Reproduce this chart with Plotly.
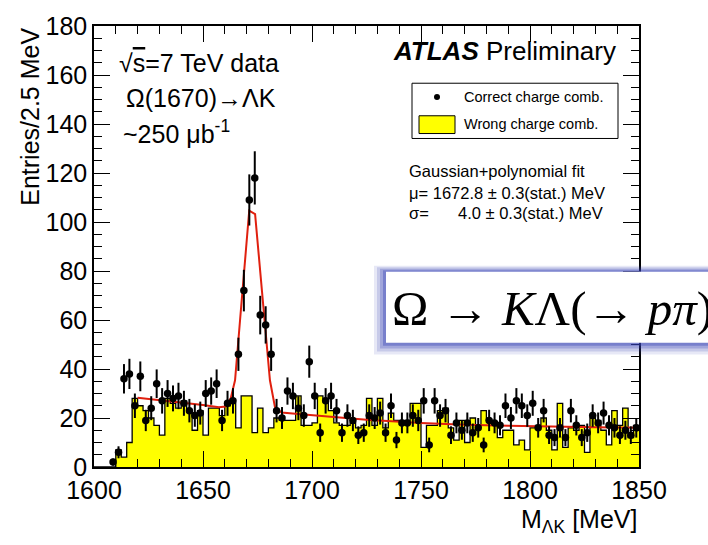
import numpy as np
import plotly.graph_objects as go

# ---------------- data ----------------
x_start = 1600.0
bin_width = 2.5
# Correct charge combinations (points), 100 bins of 2.5 MeV from 1600
correct = [0, 0, 0, 2, 6, 36, 38, 25, 37, 19,
           24, 34, 27, 30, 28, 29, 26, 23, 21, 22,
           30, 31, 34, 19, 26, 27, 46, 72, 109, 118,
           62, 58, 46, 23, 20, 31, 29, 24, 21, 43,
           29, 14, 27, 29, 23, 14, 21, 19, 13, 14,
           21, 20, 22, 14, 25, 11, 18, 18, 21, 19,
           27, 9, 27, 21, 23, 13, 18, 15, 18, 14,
           16, 9, 19, 18, 17, 25, 20, 27, 25, 21,
           26, 16, 23, 13, 12, 16, 12, 23, 17, 12,
           14, 21, 18, 22, 17, 16, 13, 15, 13, 16]
# Wrong charge combinations (yellow histogram)
wrong = [0, 0, 0, 0, 7, 4, 10, 28, 25, 23,
         20, 17, 13, 28, 26, 24, 27, 23, 15, 23,
         13, 24, 24, 21, 25, 26, 16, 29, 29, 14,
         24, 14, 16, 20, 19, 19, 19, 29, 17, 17,
         18, 29, 28, 23, 18, 17, 17, 18, 16, 17,
         28, 17, 28, 16, 22, 19, 19, 19, 26, 26,
         8, 17, 17, 23, 24, 16, 11, 19, 10, 20,
         17, 23, 19, 18, 12, 15, 15, 9, 11, 7,
         16, 17, 20, 15, 7, 26, 8, 16, 15, 17,
         6, 20, 19, 15, 9, 23, 17, 24, 12, 17]
# Gaussian+polynomial fit curve
fit_x = [1620, 1630, 1640, 1650, 1657.3, 1660.4, 1662.7, 1664.7, 1667, 1669,
         1671.2, 1673.9, 1676, 1678.2, 1680.7, 1683, 1686, 1695, 1710, 1725,
         1750, 1770, 1790, 1810, 1830, 1850]
fit_y = [28.3, 27.4, 26.5, 25.3, 24.4, 24.7, 28.0, 35.4, 60.0, 81.0,
         104.6, 103.2, 82.0, 60.0, 35.4, 24.5, 22.2, 21.5, 20.5, 19.3,
         18.0, 17.2, 16.8, 16.4, 16.2, 16.0]
x_ticks = [1600, 1650, 1700, 1750, 1800, 1850]
y_ticks = [0, 20, 40, 60, 80, 100, 120, 140, 160, 180]

n = len(correct)
edges = [x_start + bin_width * i for i in range(n + 1)]
centers = [x_start + bin_width * (i + 0.5) for i in range(n)]

# ---------------- geometry helpers (pixel -> paper) ----------------
W, H = 708, 545
L, R, T, B = 94, 639, 20, 467


def px(x):
    return (x - L) / (R - L)


def py(y):
    return (B - y) / (B - T)


fig = go.Figure()

# yellow histogram, step outline
fig.add_trace(go.Scatter(
    x=edges, y=wrong + [wrong[-1]], mode="lines",
    line=dict(shape="hv", color="black", width=1.3),
    fill="tozeroy", fillcolor="#ffff00", hoverinfo="skip", showlegend=False))

# fit curve
fig.add_trace(go.Scatter(
    x=fit_x, y=fit_y, mode="lines",
    line=dict(color="#e0200f", width=2), showlegend=False))

# data points with Poisson errors
pts_x = [c for c, v in zip(centers, correct) if v > 0]
pts_y = [v for v in correct if v > 0]
pts_e = [float(np.sqrt(v)) for v in pts_y]
fig.add_trace(go.Scatter(
    x=pts_x, y=pts_y, mode="markers",
    marker=dict(color="black", size=7.5, symbol="circle"),
    error_y=dict(type="data", array=pts_e, visible=True, color="black",
                 thickness=2, width=0),
    showlegend=False))

shapes = []
annotations = []
SANS = "Liberation Sans, Arial, Helvetica, sans-serif"


def text(x, y, s, size, anchor="left", family=SANS, color="black"):
    annotations.append(dict(
        x=px(x), y=py(y), xref="paper", yref="paper", text=s, showarrow=False,
        xanchor=anchor, yanchor="middle", font=dict(size=size, family=family, color=color)))


# upper-left labels
text(117, 57, "√<span style='text-decoration:overline'>s</span>=7 TeV data", 25)
text(124, 93, "Ω(1670)→ΛK", 25)
text(121, 127, "~250 μb<sup>-1</sup>", 25)

# ATLAS Preliminary
text(391, 45, "<b><i>ATLAS</i></b> Preliminary", 26)

# legend box
shapes.append(dict(type="rect", xref="paper", yref="paper",
                   x0=px(412), x1=px(618), y0=py(78), y1=py(134),
                   line=dict(color="black", width=1), fillcolor="white", layer="above"))
shapes.append(dict(type="circle", xref="paper", yref="paper",
                   x0=px(434), x1=px(440), y0=py(89), y1=py(95),
                   line=dict(color="black", width=0), fillcolor="black", layer="above"))
shapes.append(dict(type="rect", xref="paper", yref="paper",
                   x0=px(419), x1=px(455), y0=py(111), y1=py(129),
                   line=dict(color="black", width=1), fillcolor="#ffff00", layer="above"))
text(462, 92, "Correct charge comb.", 14.5)
text(462, 119, "Wrong charge comb.", 14.5)

# fit results
text(407, 167, "Gaussian+polynomial fit", 16.5)
text(407, 189, "μ= 1672.8 ± 0.3(stat.) MeV", 16.5)
text(407, 210, "σ=", 16.5)
text(456, 210, "4.0 ± 0.3(stat.) MeV", 16.5)

# overlay box with bluish glow (stronger to the lower-left)
glow = [(12, 0.12), (9, 0.18), (6, 0.26), (3, 0.38)]
bx0, bx1, by0, by1 = 386, 720, 269, 341
for g, op in glow:
    shapes.append(dict(type="rect", xref="paper", yref="paper",
                       x0=px(bx0 - g), x1=px(bx1 + g), y0=py(by0 - g * 0.5), y1=py(by1 + g),
                       line=dict(width=0), fillcolor="rgba(55,65,180,%.2f)" % op, layer="above"))
shapes.append(dict(type="rect", xref="paper", yref="paper",
                   x0=px(bx0), x1=px(bx1), y0=py(by0), y1=py(by1),
                   line=dict(width=0), fillcolor="white", layer="above"))
text(390, 306, "Ω → <i>K</i>Λ(→ <i>pπ</i>)", 49, family="Liberation Serif, Times New Roman, serif")

# y axis title
annotations.append(dict(x=px(30), y=py(112), xref="paper", yref="paper",
                        text="Entries/2.5 MeV", showarrow=False, textangle=-90,
                        xanchor="center", yanchor="middle",
                        font=dict(size=25, family=SANS, color="black")))
# x axis title
annotations.append(dict(x=px(639), y=py(522), xref="paper", yref="paper",
                        text="M<sub>ΛK</sub> [MeV]", showarrow=False,
                        xanchor="right", yanchor="middle",
                        font=dict(size=25, family=SANS, color="black")))

axis_common = dict(showline=True, linecolor="black", linewidth=1.5, mirror="allticks",
                   ticks="inside", ticklen=16, tickwidth=1, tickcolor="black",
                   showgrid=False, zeroline=False,
                   tickfont=dict(size=25, family=SANS, color="black"))

fig.update_layout(
    width=W, height=H,
    margin=dict(l=L, r=W - R, t=T, b=H - B),
    paper_bgcolor="white", plot_bgcolor="white",
    xaxis=dict(range=[1600, 1850], tickvals=x_ticks,
               minor=dict(dtick=10, tick0=1600, ticks="inside", ticklen=8, tickcolor="black"),
               **axis_common),
    yaxis=dict(range=[0, 180], tickvals=y_ticks,
               minor=dict(dtick=5, tick0=0, ticks="inside", ticklen=8, tickcolor="black"),
               **axis_common),
    shapes=shapes, annotations=annotations,
)

fig.write_html("out.html")
